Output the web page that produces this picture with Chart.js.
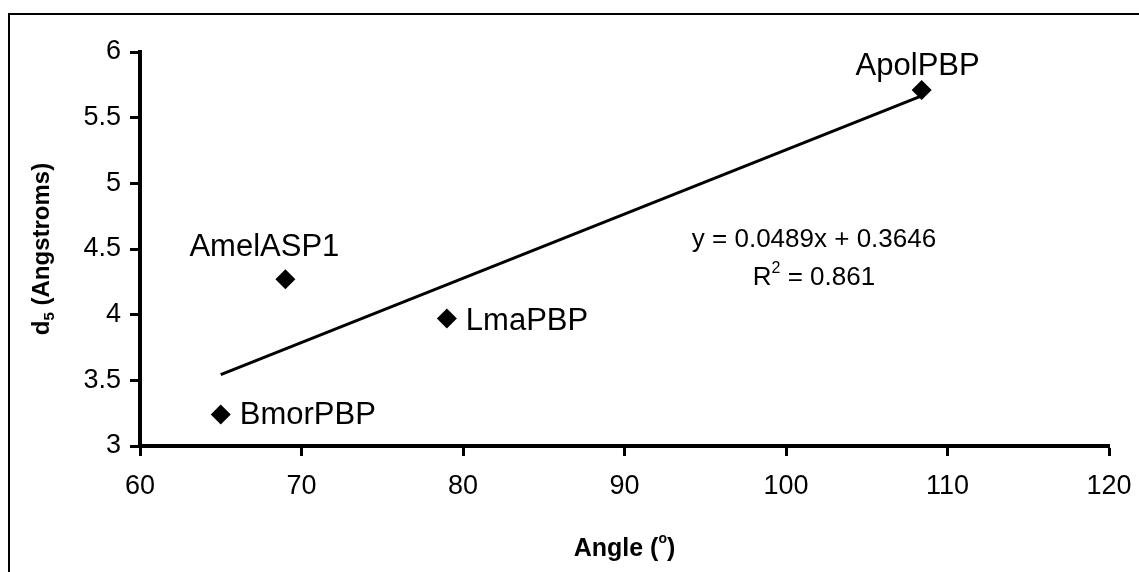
<!DOCTYPE html>
<html>
<head>
<meta charset="utf-8">
<script src="https://cdn.jsdelivr.net/npm/chart.js@4/dist/chart.umd.min.js"></script>
<style>
  html, body { margin: 0; padding: 0; background: #fff; }
  #wrap { width: 1139px; height: 572px; position: relative; }
</style>
</head>
<body>
<div id="wrap"><canvas id="chart"></canvas></div>
<script>
// protein binding pockets: angle vs d5 distance
const proteins = ["BmorPBP", "AmelASP1", "LmaPBP", "ApolPBP"]
const angles = [65, 69, 79, 108.4]
const d5 = [3.24, 4.27, 3.97, 5.71]

// linear fit as printed on the chart
const slope = 0.0489
const intercept = 0.3646
const rSquared = 0.861

const xRange = [60, 120, 10]
const yRange = [3, 6, 0.5]

const FONT = "'Liberation Sans', Arial, sans-serif"

// where each point label sits relative to its marker
const labelPlacement = {
  BmorPBP: { dx: 19, dy: 10, align: "left" },
  AmelASP1: { dx: -21, dy: -23, align: "center" },
  LmaPBP: { dx: 19, dy: 11, align: "left" },
  ApolPBP: { dx: -4, dy: -15, align: "center" }
}

const points = angles.map((a, i) => ({ x: a, y: d5[i] }))
const xMin = Math.min(...angles)
const xMax = Math.max(...angles)
const trend = [xMin, xMax].map(x => ({ x, y: slope * x + intercept }))

const annotations = {
  id: "annotations",
  afterDatasetsDraw(chart) {
    const { ctx } = chart
    const meta = chart.getDatasetMeta(1)
    ctx.save()
    ctx.fillStyle = "#000"
    ctx.textBaseline = "alphabetic"
    ctx.font = "31px " + FONT
    meta.data.forEach((pt, i) => {
      const name = proteins[i]
      const p = labelPlacement[name]
      ctx.textAlign = p.align
      ctx.fillText(name, pt.x + p.dx, pt.y + p.dy)
    })

    // regression equation
    ctx.font = "26px " + FONT
    ctx.textAlign = "center"
    const ex = 814
    ctx.fillText("y = " + slope + "x + " + intercept, ex, 247)
    const rest = " = " + rSquared
    const wR = ctx.measureText("R").width
    const wRest = ctx.measureText(rest).width
    ctx.font = "16px " + FONT
    const wSup = ctx.measureText("2").width
    const x0 = ex - (wR + wSup + wRest) / 2
    ctx.textAlign = "left"
    ctx.font = "26px " + FONT
    ctx.fillText("R", x0, 285)
    ctx.font = "16px " + FONT
    ctx.fillText("2", x0 + wR, 273)
    ctx.font = "26px " + FONT
    ctx.fillText(rest, x0 + wR + wSup, 285)
    ctx.restore()
  },
  afterDraw(chart) {
    const { ctx, chartArea } = chart
    ctx.save()
    ctx.fillStyle = "#000"

    // x axis title
    ctx.font = "bold 25px " + FONT
    const cx = (chartArea.left + chartArea.right) / 2
    const a = "Angle ("
    const wa = ctx.measureText(a).width
    const wc = ctx.measureText(")").width
    ctx.font = "bold 14px " + FONT
    const wo = ctx.measureText("o").width
    const x = cx - (wa + wo + wc) / 2
    ctx.textAlign = "left"
    ctx.font = "bold 25px " + FONT
    ctx.fillText(a, x, 556)
    ctx.font = "bold 14px " + FONT
    ctx.fillText("o", x + wa, 543)
    ctx.font = "bold 25px " + FONT
    ctx.fillText(")", x + wa + wo, 556)

    // y axis title, rotated, with subscript
    const cy = (chartArea.top + chartArea.bottom) / 2
    ctx.translate(49, cy)
    ctx.rotate(-Math.PI / 2)
    ctx.font = "bold 24px " + FONT
    const wd = ctx.measureText("d").width
    const tail = " (Angstroms)"
    const wt = ctx.measureText(tail).width
    ctx.font = "bold 15px " + FONT
    const w5 = ctx.measureText("5").width
    const y0 = -(wd + w5 + wt) / 2
    ctx.font = "bold 24px " + FONT
    ctx.fillText("d", y0, 0)
    ctx.font = "bold 15px " + FONT
    ctx.fillText("5", y0 + wd, 5)
    ctx.font = "bold 24px " + FONT
    ctx.fillText(tail, y0 + wd + w5, 0)
    ctx.restore()

    // frame along the top and left edges
    ctx.save()
    ctx.strokeStyle = "#000"
    ctx.lineWidth = 2
    ctx.beginPath()
    ctx.moveTo(9, chart.height)
    ctx.lineTo(9, 14)
    ctx.lineTo(chart.width, 14)
    ctx.stroke()
    ctx.restore()
  }
}

const plainTick = v => String(v)

new Chart(document.getElementById("chart"), {
  type: "scatter",
  data: {
    datasets: [
      {
        type: "line",
        label: "Linear fit",
        data: trend,
        borderColor: "#000",
        borderWidth: 3,
        pointRadius: 0,
        fill: false,
        tension: 0
      },
      {
        label: "d5",
        data: points,
        pointStyle: "rectRot",
        pointRadius: 10,
        pointHoverRadius: 10,
        backgroundColor: "#000",
        borderColor: "#000",
        borderWidth: 0
      }
    ]
  },
  options: {
    responsive: true,
    maintainAspectRatio: false,
    animation: false,
    layout: { padding: { top: 52, right: 30, left: 0, bottom: 0 } },
    plugins: {
      legend: { display: false },
      tooltip: { enabled: false }
    },
    scales: {
      x: {
        type: "linear",
        min: xRange[0],
        max: xRange[1],
        ticks: {
          stepSize: xRange[2],
          color: "#000",
          font: { family: FONT, size: 27 },
          padding: 14,
          callback: plainTick
        },
        grid: {
          drawOnChartArea: false,
          drawTicks: true,
          tickLength: 10,
          tickWidth: 3,
          tickColor: "#000"
        },
        border: { display: true, color: "#000", width: 4 },
        afterFit(scale) {
          scale.height = 126
          scale.paddingRight = 0
          scale.paddingLeft = 0
        }
      },
      y: {
        type: "linear",
        min: yRange[0],
        max: yRange[1],
        ticks: {
          stepSize: yRange[2],
          color: "#000",
          font: { family: FONT, size: 27 },
          padding: 9,
          callback: plainTick
        },
        grid: {
          drawOnChartArea: false,
          drawTicks: true,
          tickLength: 10,
          tickWidth: 3,
          tickColor: "#000"
        },
        border: { display: true, color: "#000", width: 4 },
        afterFit(scale) { scale.width = 140 }
      }
    }
  },
  plugins: [annotations]
})
</script>
</body>
</html>
